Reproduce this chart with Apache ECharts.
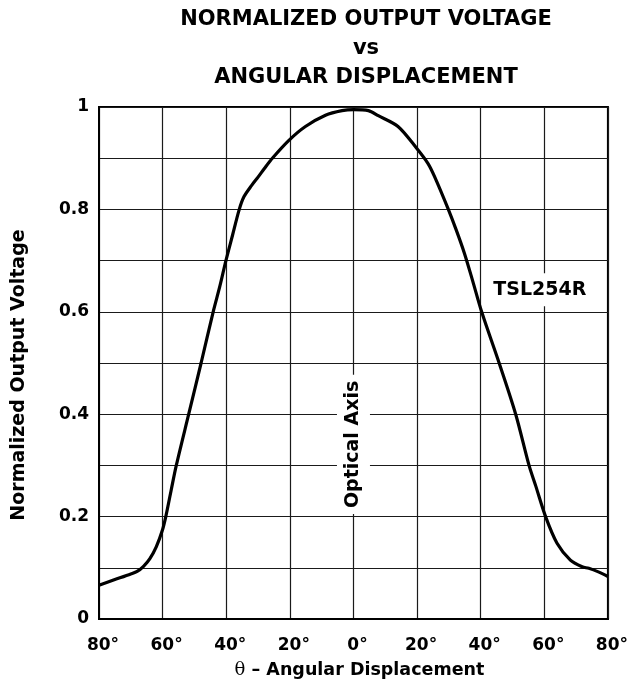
<!DOCTYPE html>
<html>
<head>
<meta charset="utf-8">
<script src="https://cdn.jsdelivr.net/npm/echarts@6/dist/echarts.min.js"></script>
<style>
html,body{margin:0;padding:0;background:#fff;}
#chart{width:631px;height:689px;}
</style>
</head>
<body>
<div id="chart"></div>
<script>
// Angular displacement (degrees, negative = left side) and normalized output voltage
var angles = [-80,-75,-70,-68,-66,-64,-62,-60,-59,-57.3,-55.7,-51.8,-47.9,-44.1,-42,-40.1,-38,-35.9,-34.4,-32,-30,-28,-25.5,-20.3,-15.1,-8.8,-3.6,0,4.7,7.8,14,19.8,23.4,25.5,29.7,32.3,34.9,37.5,40.3,45.8,51,55.2,57.3,60.4,64,68.2,71.9,74,77,80];
var voltages = [0.066,0.077,0.088,0.093,0.103,0.118,0.141,0.175,0.2,0.252,0.3,0.4,0.5,0.6,0.65,0.7,0.75,0.8,0.825,0.847,0.863,0.88,0.9,0.935,0.962,0.984,0.993,0.995,0.993,0.983,0.962,0.92,0.89,0.864,0.802,0.76,0.714,0.66,0.6,0.5,0.4,0.3,0.26,0.2,0.148,0.115,0.102,0.099,0.092,0.083];
var xTickValues = [-80,-60,-40,-20,0,20,40,60,80];
var xTickLabels = ['80°','60°','40°','20°','0°','20°','40°','60°','80°'];
var yTickValues = [0,0.2,0.4,0.6,0.8,1];
var yTickLabels = ['0','0.2','0.4','0.6','0.8','1'];
var annotations = [
  {name:'Optical Axis', x:0, y:0.341, rotate:90},
  {name:'TSL254R', x:58.6, y:0.643, rotate:0}
];

var FONT = 'DejaVu Sans';
var chart = echarts.init(document.getElementById('chart'), null, {renderer:'canvas'});
var curve = angles.map(function(a,i){return [a, voltages[i]];});

chart.setOption({
  animation:false,
  backgroundColor:'#fff',
  title:{
    text:'NORMALIZED OUTPUT VOLTAGE\nvs\nANGULAR DISPLACEMENT',
    left:361, top:0, textAlign:'center',
    textStyle:{fontFamily:FONT, fontWeight:'bold', fontSize:21, lineHeight:29, color:'#000'}
  },
  grid:{left:99, right:20, top:107, bottom:70, show:true, borderColor:'#000', borderWidth:2, backgroundColor:'transparent'},
  xAxis:{
    type:'value', min:-80, max:80, interval:20,
    axisLine:{show:true, onZero:false, lineStyle:{color:'#000', width:2}},
    axisTick:{show:false},
    splitLine:{show:true, lineStyle:{color:'#1a1a1a', width:1.2}},
    axisLabel:{
      margin:18, color:'#000', fontFamily:FONT, fontWeight:'bold', fontSize:17, padding:[0,0,0,8],
      formatter:function(v){var i=xTickValues.indexOf(Math.round(v)); return i>=0?xTickLabels[i]:'';}
    },
    name:'{t|θ}{b| – Angular Displacement}', nameLocation:'middle', nameGap:42,
    nameTextStyle:{
      padding:[0,0,0,12],
      rich:{
        t:{fontFamily:'DejaVu Serif', fontWeight:'normal', fontSize:18, color:'#000'},
        b:{fontFamily:FONT, fontWeight:'bold', fontSize:17.5, color:'#000'}
      }
    }
  },
  yAxis:{
    type:'value', min:0, max:1, interval:0.1,
    axisLine:{show:true, onZero:false, lineStyle:{color:'#000', width:2}},
    axisTick:{show:false},
    splitLine:{show:true, lineStyle:{color:'#1a1a1a', width:1.2}},
    axisLabel:{
      margin:10, color:'#000', fontFamily:FONT, fontWeight:'bold', fontSize:17,
      formatter:function(v){
        for(var i=0;i<yTickValues.length;i++){ if(Math.abs(yTickValues[i]-v)<1e-6) return yTickLabels[i]; }
        return '';
      }
    },
    name:'Normalized Output Voltage', nameLocation:'middle', nameGap:70, nameRotate:90,
    nameTextStyle:{fontFamily:FONT, fontWeight:'bold', fontSize:19, color:'#000', padding:[0,24,0,0]}
  },
  series:[
    {
      type:'line', data:curve, smooth:0.3, showSymbol:false, symbol:'none',
      lineStyle:{color:'#000', width:3.2}, z:5
    },
    {
      type:'scatter', symbolSize:0, z:6, silent:true,
      itemStyle:{opacity:1, color:'#000'},
      emphasis:{disabled:true},
      data:annotations.map(function(a){return {name:a.name, value:[a.x,a.y], label:{rotate:a.rotate}};}),
      label:{
        show:true, position:'inside', formatter:'{b}', opacity:1,
        fontFamily:FONT, fontWeight:'bold', fontSize:19, color:'#000',
        backgroundColor:'#fff', padding:[7,6]
      }
    }
  ]
});
</script>
</body>
</html>
